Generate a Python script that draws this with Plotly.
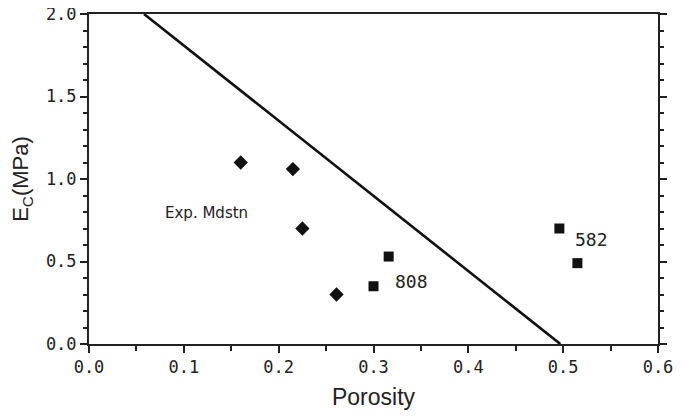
import plotly.graph_objects as go

# Data
mdstn_porosity = [0.160, 0.215, 0.225, 0.261]
mdstn_ec = [1.10, 1.06, 0.70, 0.30]

site_porosity = [0.316, 0.300, 0.496, 0.515]
site_ec = [0.53, 0.35, 0.70, 0.49]

line_porosity = [0.058, 0.497]
line_ec = [2.0, 0.0]

labels_text = ["Exp. Mdstn", "808", "582"]
labels_x = [0.078, 0.321, 0.510]
labels_y = [0.794, 0.376, 0.636]

x_ticks = [0.0, 0.1, 0.2, 0.3, 0.4, 0.5, 0.6]
y_ticks = [0.0, 0.5, 1.0, 1.5, 2.0]

label_fonts = [("DejaVu Sans", 15), ("DejaVu Sans Mono", 18), ("DejaVu Sans Mono", 18)]

fig = go.Figure()
fig.add_trace(go.Scatter(x=line_porosity, y=line_ec, mode="lines",
                         line=dict(color="#111111", width=2.6), showlegend=False,
                         cliponaxis=False))
fig.add_trace(go.Scatter(x=mdstn_porosity, y=mdstn_ec, mode="markers",
                         marker=dict(symbol="diamond", size=11, color="#111111"),
                         showlegend=False))
fig.add_trace(go.Scatter(x=site_porosity, y=site_ec, mode="markers",
                         marker=dict(symbol="square", size=10, color="#111111"),
                         showlegend=False))

for t, x, y, (fam, s) in zip(labels_text, labels_x, labels_y, label_fonts):
    fig.add_annotation(x=x, y=y, text=t, showarrow=False, xanchor="left", yanchor="middle",
                       font=dict(family=fam, size=s, color="#222222"))

tickfont = dict(family="DejaVu Sans Mono", size=17, color="#222222")
# page body has an 8px default margin: compensate so the plot area lands at the right pixels
fig.update_layout(
    width=678, height=410,
    margin=dict(l=81, r=28, t=6, b=74, autoexpand=False),
    paper_bgcolor="white", plot_bgcolor="white",
    xaxis=dict(range=[0, 0.6], tickvals=x_ticks, ticktext=[f"{v:.1f}" for v in x_ticks],
               automargin=False, ticklabeloverflow="allow",
               showgrid=False, zeroline=False, showline=True, linecolor="#222222", linewidth=2,
               mirror=True, ticks="outside", ticklen=7, tickwidth=2, tickcolor="#222222",
               minor=dict(dtick=0.05, ticks="outside", ticklen=5, tickwidth=2, tickcolor="#222222"),
               tickfont=tickfont,
               title=dict(text="Porosity", font=dict(family="Arial", size=23, color="#222222"), standoff=12)),
    yaxis=dict(range=[0, 2.0], tickvals=y_ticks, ticktext=[f"{v:.1f}" for v in y_ticks],
               automargin=False, ticklabeloverflow="allow",
               showgrid=False, zeroline=False, showline=True, linecolor="#222222", linewidth=2,
               mirror="ticks", ticks="outside", ticklen=7, tickwidth=2, tickcolor="#222222",
               minor=dict(dtick=0.1, ticks="outside", ticklen=4, tickwidth=2, tickcolor="#222222"),
               tickfont=tickfont,
               title=dict(text="E<sub>C</sub>(MPa)", font=dict(family="Arial", size=22, color="#222222"), standoff=14)),
)

fig.write_html("out.html")
